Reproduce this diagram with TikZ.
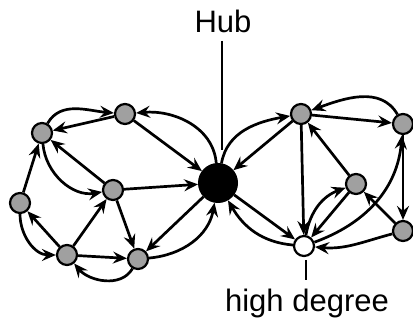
\documentclass[tikz,border=0pt]{standalone}
\usepackage{fontspec}
\setmainfont{Liberation Sans}
\usetikzlibrary{arrows.meta}
\definecolor{nodegray}{RGB}{160,160,160}
\begin{document}
\begin{tikzpicture}[x=1pt,y=1pt,
  gnode/.style={circle,draw=black,line width=2.2pt,fill=nodegray,minimum size=20pt,inner sep=0pt},
  wnode/.style={circle,draw=black,line width=2.2pt,fill=white,minimum size=20pt,inner sep=0pt},
  hubnode/.style={circle,draw=black,line width=1pt,fill=black,minimum size=39pt,inner sep=0pt},
  edge/.style={line width=2.7pt,-{Stealth[length=14pt,width=12pt,inset=5pt]}},
  lbl/.style={font=\fontsize{31}{36}\selectfont,anchor=base,inner sep=0pt},
  tick/.style={line width=2.2pt}]
\useasboundingbox (0,0) rectangle (413,-328);
% nodes
\node[hubnode] (hub) at (218,-183) {};
\node[gnode] (A) at (125,-114) {};
\node[gnode] (B) at (42,-133) {};
\node[gnode] (C) at (113,-190) {};
\node[gnode] (D) at (20,-203) {};
\node[gnode] (E) at (67,-255) {};
\node[gnode] (F) at (138,-259) {};
\node[gnode] (G) at (301,-114) {};
\node[gnode] (H) at (403,-124) {};
\node[gnode] (I) at (356,-184) {};
\node[gnode] (J) at (403,-231) {};
\node[wnode] (W) at (304,-246) {};
% labels
\node[lbl] (hubtxt) at (223,-33) {Hub};
\node[lbl] (hdtxt) at (307,-312) {high degree};
\coordinate (h1) at (222,-41);
\coordinate (h2) at (222,-150);
\coordinate (w1) at (306,-260);
\coordinate (w2) at (306,-280);
\draw[tick] (h1) -- (h2);
\draw[tick] (w1) -- (w2);
% left straight edges
\draw[edge] (A) -- (B);
\draw[edge] (A) -- (hub);
\draw[edge] (C) -- (B);
\draw[edge] (C) -- (hub);
\draw[edge] (D) -- (B);
\draw[edge] (E) -- (D);
\draw[edge] (E) -- (C);
\draw[edge] (C) -- (F);
\draw[edge] (E) -- (F);
\draw[edge] (hub) -- (F);
% left curved edges
\draw[edge] (B) to[out=60,in=175] (A);
\draw[edge] (hub) to[out=95,in=5] (A);
\draw[edge] (B) to[out=-85,in=190] (C);
\draw[edge] (D) to[out=-90,in=180] (E);
\draw[edge] (F) to[out=-120,in=-50] (E);
\draw[edge] (F) to[out=5,in=-100] (hub);
% right straight edges
\draw[edge] (G) -- (hub);
\draw[edge] (G) -- (H);
\draw[edge] (G) -- (W);
\draw[edge] (I) -- (G);
\draw[edge] (I) -- (W);
\draw[edge] (J) -- (I);
\draw[edge] (H) -- (J);
\draw[edge] (hub) -- (W);
% right curved edges
\draw[edge] (hub) to[out=80,in=190] (G);
\draw[edge] (H) to[out=120,in=20] (G);
\draw[edge] (W) to[out=80,in=200] (I);
\draw[edge] (W) to[out=20,in=-95] (H);
\draw[edge] (J) to[out=195,in=-5] (W);
\draw[edge] (W) to[out=175,in=-60] (hub);
\end{tikzpicture}
\end{document}
